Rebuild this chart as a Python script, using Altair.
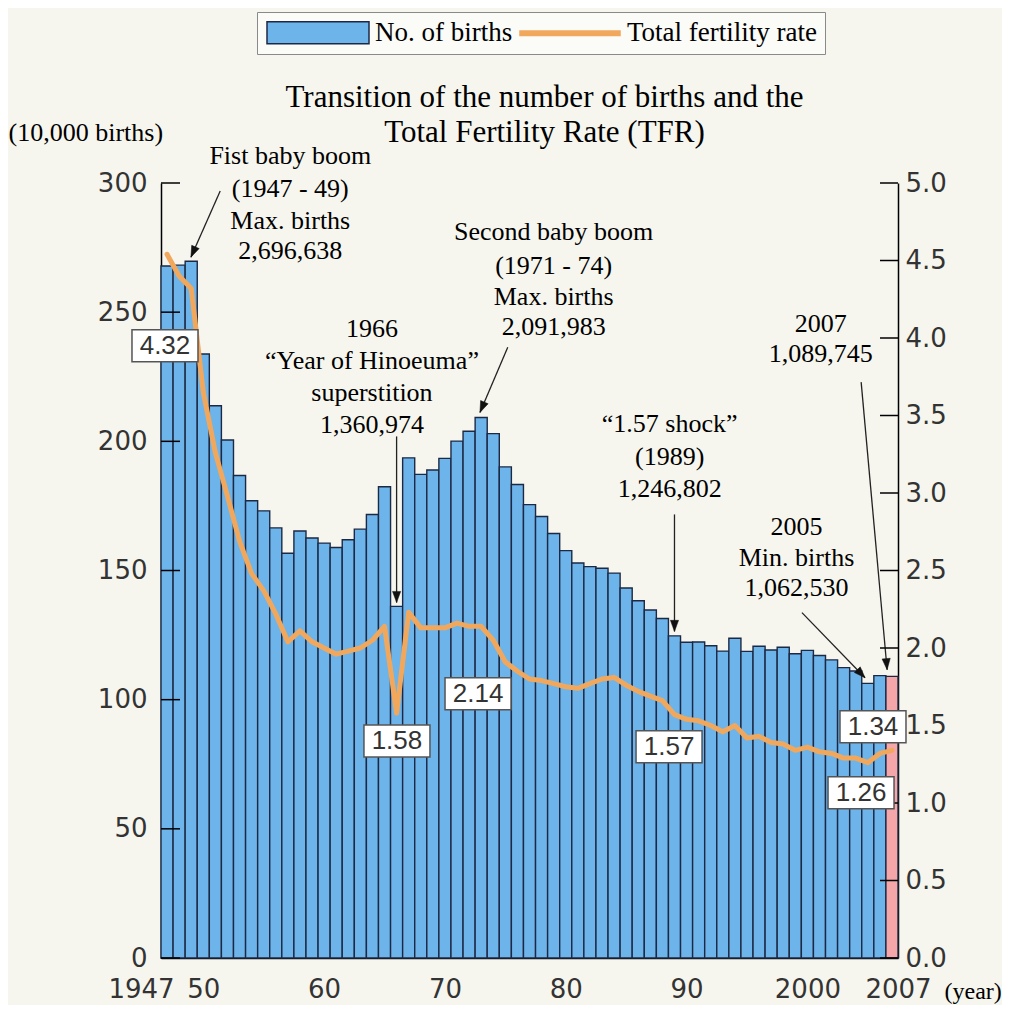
import altair as alt
import pandas as pd

# ---------------- data ----------------
years = list(range(1947, 2008))
births = [267.9, 268.2, 269.7, 233.8, 213.8, 200.5, 186.8, 177.0, 173.1, 166.5,
          156.7, 165.3, 162.6, 160.6, 158.9, 161.9, 166.0, 171.7, 182.4, 136.1,
          193.6, 187.2, 188.9, 193.4, 200.1, 203.9, 209.2, 203.0, 190.1, 183.3,
          175.5, 170.9, 164.3, 157.7, 152.9, 151.5, 150.9, 149.0, 143.2, 138.3,
          134.7, 131.4, 124.7, 122.2, 122.3, 120.9, 118.8, 123.8, 118.7, 120.7,
          119.2, 120.3, 117.8, 119.1, 117.1, 115.4, 112.4, 111.1, 106.3, 109.3, 109.0]
tfr = [4.54, 4.40, 4.32, 3.65, 3.26, 2.98, 2.69, 2.48, 2.37, 2.22,
       2.04, 2.11, 2.04, 2.00, 1.96, 1.98, 2.00, 2.05, 2.14, 1.58,
       2.23, 2.13, 2.13, 2.13, 2.16, 2.14, 2.14, 2.05, 1.91, 1.85,
       1.80, 1.79, 1.77, 1.75, 1.74, 1.77, 1.80, 1.81, 1.76, 1.72,
       1.69, 1.66, 1.57, 1.54, 1.53, 1.50, 1.46, 1.50, 1.42, 1.43,
       1.39, 1.38, 1.34, 1.36, 1.33, 1.32, 1.29, 1.29, 1.26, 1.32, 1.34]

series_names = ["No. of births", "Total fertility rate"]
x_tick_years = [1947, 1950, 1960, 1970, 1980, 1990, 2000, 2007]
left_ticks = [0, 50, 100, 150, 200, 250, 300]
right_ticks = [0.0, 0.5, 1.0, 1.5, 2.0, 2.5, 3.0, 3.5, 4.0, 4.5, 5.0]

# annotation texts (position in year / births units)
note_text = ["Fist baby boom", "(1947 - 49)", "Max. births", "2,696,638",
             "1966", "\u201cYear of Hinoeuma\u201d", "superstition", "1,360,974",
             "Second baby boom", "(1971 - 74)", "Max. births", "2,091,983",
             "\u201c1.57 shock\u201d", "(1989)", "1,246,802",
             "2005", "Min. births", "1,062,530",
             "2007", "1,089,745"]
note_year = [1957.2, 1957.2, 1957.2, 1957.2,
             1963.96, 1963.96, 1963.96, 1963.96,
             1979.0, 1979.0, 1979.0, 1979.0,
             1988.6, 1988.6, 1988.6,
             1999.1, 1999.1, 1999.1,
             2001.1, 2001.1]
note_births = [310.5, 297.7, 285.3, 273.6,
               243.4, 231.0, 218.6, 206.2,
               281.0, 267.8, 255.8, 244.2,
               206.6, 193.8, 181.4,
               166.7, 155.0, 143.4,
               245.3, 233.7]

# arrows (start -> end, in year / births units)
arrow_x0 = [1951.4, 1966.0, 1975.2, 1989.0, 1999.55, 2004.45]
arrow_y0 = [296.9, 201.9, 236.4, 171.7, 133.7, 222.9]
arrow_x1 = [1948.98, 1966.0, 1972.9, 1989.0, 2004.77, 2006.6]
arrow_y1 = [271.3, 137.6, 211.2, 126.4, 108.5, 111.6]
arrow_angle = [23.7, 0, 23.3, 0, 316, 355]

# boxed TFR values (position in year / TFR units)
label_text = ["4.32", "1.58", "2.14", "1.57", "1.34", "1.26"]
label_year = [1946.83, 1966.03, 1972.74, 1988.55, 2005.43, 2004.44]
label_tfr = [3.95, 1.40, 1.705, 1.363, 1.492, 1.066]

# ---------------- tables ----------------
df = pd.DataFrame({"year": years, "births": births, "tfr": tfr})
df["series"] = series_names[0]
df["x0"] = df["year"] - 0.5
df["x1"] = df["year"] + 0.5
notes = pd.DataFrame({"t": note_text, "x": note_year, "y": note_births})
arrows = pd.DataFrame({"x0": arrow_x0, "y0": arrow_y0, "x1": arrow_x1,
                       "y1": arrow_y1, "ang": arrow_angle})
labels = pd.DataFrame({"t": label_text, "x": label_year, "y": label_tfr})

# ---------------- styles ----------------
BLUE = "#6db4ea"
PINK = "#f4a6a8"
ORANGE = "#f2a85c"
EDGE = "#1d2944"
SERIF = "Liberation Serif"
SANS = "Liberation Sans"
AXSANS = "DejaVu Sans"

xscale = alt.Scale(domain=[1946.5, 2007.5], nice=False, zero=False)
yL = alt.Scale(domain=[0, 300], nice=False)
yR = alt.Scale(domain=[0, 5], nice=False)

x_axis = alt.Axis(values=x_tick_years,
                  labelExpr="datum.value == 1947 || datum.value >= 2000 ? '' + datum.value : '' + (datum.value % 100)",
                  labelOffset={"condition": [{"test": "datum.value == 1947", "value": -26},
                                             {"test": "datum.value == 2007", "value": 6}],
                               "value": 0},
                  title="(year)", titleX=783, titleY=33, titleAlign="left",
                  titleBaseline="middle", titleFont=SERIF, titleFontSize=24,
                  titleFontWeight="normal", titleColor="black",
                  grid=False, ticks=False, domain=True, domainColor="black",
                  domainWidth=1.5, labelFont=AXSANS, labelFontSize=26,
                  labelColor="#333", labelPadding=18, labelFlush=False,
                  labelOverlap=False)

left_axis = alt.Axis(orient="left", values=left_ticks, title="(10,000 births)",
                     titleAngle=0, titleX=-153, titleY=-51, titleAlign="left",
                     titleBaseline="middle", titleFont=SERIF, titleFontSize=26,
                     titleFontWeight="normal", titleColor="black",
                     grid=False, ticks=False, domainColor="black", domainWidth=1.5,
                     labelFont=AXSANS, labelFontSize=26, labelColor="#333",
                     labelPadding=14)

right_axis = alt.Axis(orient="right", values=right_ticks, format=".1f", title=None,
                      grid=False, ticks=False, domainColor="black", domainWidth=1.5,
                      labelFont=AXSANS, labelFontSize=26, labelColor="#333",
                      labelPadding=7, labelFlush=False)

legend = alt.Legend(
    title=None, orient="none", legendX=96, legendY=-171, direction="horizontal",
    columns=2,
    symbolType={"expr": "datum.value === 'No. of births' ? 'M-5.1,-1.1H5.1V1.1H-5.1Z' : 'M-5,-0.22H5V0.22H-5Z'"},
    symbolSize=400,
    symbolStrokeColor={"expr": "datum.value === 'No. of births' ? '#1d2944' : '#f2a85c'"},
    symbolStrokeWidth=1.5,
    symbolOffset=40.5,
    symbolOpacity=1,
    labelExpr="datum.value === 'Total fertility rate' ? datum.label + '\u2003' : datum.label",
    labelFont=SERIF, labelFontSize=27, labelColor="black", labelOffset=43.5,
    labelLimit=400, columnPadding=3, padding=7, strokeColor="#8a8a8a",
    fillColor="#fbfbf8")

base = alt.Chart(df)

bars = base.mark_bar(stroke=EDGE, strokeWidth=1.4).encode(
    x=alt.X("x0:Q", scale=xscale, axis=x_axis),
    x2="x1:Q",
    y=alt.Y("births:Q", scale=yL, axis=left_axis),
    y2=alt.datum(0),
    fill=alt.condition("datum.year == 2007", alt.value(PINK),
                       alt.Fill("series:N",
                                scale=alt.Scale(domain=series_names, range=[BLUE, ORANGE]),
                                legend=legend)),
)

lticks = alt.Chart(pd.DataFrame({"v": left_ticks})).mark_rule(
    color="black", strokeWidth=1.5).encode(
    x=alt.value(0), x2=alt.value(19),
    y=alt.Y("v:Q", scale=yL))

note_marks = alt.Chart(notes).mark_text(
    font=SERIF, fontSize=26, color="black", align="center", baseline="middle").encode(
    x=alt.X("x:Q", scale=xscale),
    y=alt.Y("y:Q", scale=yL),
    text="t:N")

arrow_lines = alt.Chart(arrows).mark_rule(color="#222", strokeWidth=1.3).encode(
    x=alt.X("x0:Q", scale=xscale), x2="x1:Q",
    y=alt.Y("y0:Q", scale=yL), y2="y1:Q")

arrow_heads = alt.Chart(arrows).mark_point(
    shape="M0,0L-0.55,-1.5L0.55,-1.5Z", filled=True, fill="#111", stroke="#111",
    strokeWidth=0.5, size=220, opacity=1).encode(
    x=alt.X("x1:Q", scale=xscale),
    y=alt.Y("y1:Q", scale=yL),
    angle=alt.Angle("ang:Q", scale=None))

left_group = alt.layer(bars, lticks, arrow_lines, arrow_heads, note_marks)

line = base.mark_line(color=ORANGE, strokeWidth=5, strokeJoin="round",
                      strokeCap="round").encode(
    x=alt.X("year:Q", scale=xscale),
    y=alt.Y("tfr:Q", scale=yR, axis=right_axis))

rticks = alt.Chart(pd.DataFrame({"v": right_ticks})).mark_rule(
    color="black", strokeWidth=1.5).encode(
    x=alt.value(719), x2=alt.value(737),
    y=alt.Y("v:Q", scale=yR))

boxes = alt.Chart(labels).mark_point(
    shape="M-1,-0.485H1V0.485H-1Z", size=4356, filled=True, fill="white",
    stroke="#555", strokeWidth=1.5, opacity=1, fillOpacity=1, strokeOpacity=1).encode(
    x=alt.X("x:Q", scale=xscale),
    y=alt.Y("y:Q", scale=yR))

box_text = alt.Chart(labels).mark_text(
    font=SANS, fontSize=26, color="#333", align="center", baseline="middle").encode(
    x=alt.X("x:Q", scale=xscale),
    y=alt.Y("y:Q", scale=yR),
    text="t:N")

right_group = alt.layer(line, rticks, boxes, box_text)

chart = alt.layer(left_group, right_group).resolve_scale(
    y="independent"
).properties(
    width=737, height=775,
    padding={"left": 153, "top": 175, "right": 104, "bottom": 47},
    autosize=alt.AutoSizeParams(type="none"),
    background="#f6f6ee",
    title=alt.TitleParams(
        text=["Transition of the number of births and the", "Total Fertility Rate (TFR)"],
        font=SERIF, fontSize=31, fontWeight="normal", color="black",
        anchor="middle", frame="group", dx=15, lineHeight=35,
        baseline="bottom", offset=-168),
).configure_view(stroke=None)

chart.save("out.html", embed_options={"renderer": "svg", "actions": False})
